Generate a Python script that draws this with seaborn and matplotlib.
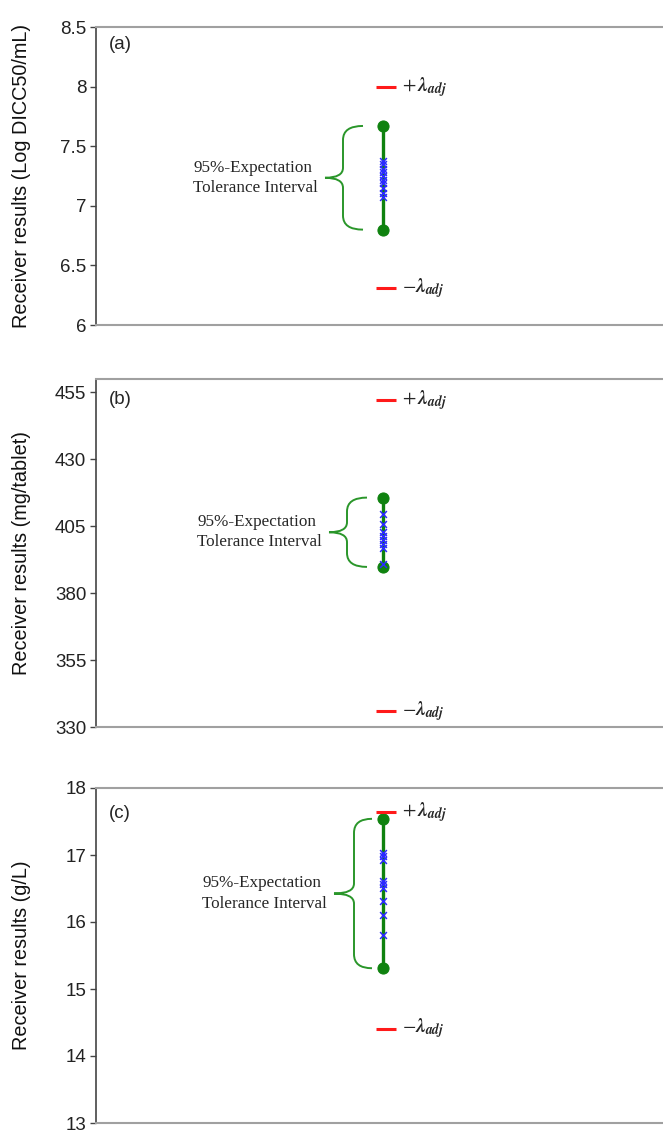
import pandas as pd
import matplotlib.pyplot as plt
from matplotlib.path import Path
from matplotlib.patches import PathPatch
from matplotlib.transforms import IdentityTransform
import seaborn as sns

# panel texts and axes
panel_names = ['(a)', '(b)', '(c)']
y_labels = ['Receiver results (Log DICC50/mL)',
            'Receiver results (mg/tablet)',
            'Receiver results (g/L)']
y_ticks = [[6, 6.5, 7, 7.5, 8, 8.5],
           [330, 355, 380, 405, 430, 455],
           [13, 14, 15, 16, 17, 18]]
y_tick_labels = [['6', '6.5', '7', '7.5', '8', '8.5'],
                 ['330', '355', '380', '405', '430', '455'],
                 ['13', '14', '15', '16', '17', '18']]
y_limits = [(6, 8.5), (330, 460), (13, 18)]

# 95%-expectation tolerance interval (green), +/- lambda_adj (red)
ti_low = [6.80, 389.8, 15.31]
ti_high = [7.67, 415.7, 17.54]
lam_minus = [6.31, 336.0, 14.41]
lam_plus = [8.00, 452.3, 17.64]

# receiver results (blue crosses)
results_a = [7.38, 7.35, 7.31, 7.28, 7.25, 7.22, 7.19, 7.15, 7.11, 7.07]
results_b = [409.5, 406.0, 403.0, 401.5, 400.0, 398.5, 397.0, 391.0]
results_c = [17.03, 16.98, 16.93, 16.61, 16.56, 16.51, 16.31, 16.11, 15.80]
results = [results_a, results_b, results_c]

sns.set_style('white')
plt.rcParams['font.family'] = ['Liberation Sans', 'DejaVu Sans']
plt.rcParams['mathtext.fontset'] = 'stix'

fig = plt.figure(figsize=(6.63, 11.32), dpi=100)
H = 1132.0
W = 663.0
# (top px, bottom px) of each panel
panel_px = [(27, 325), (379, 727), (788, 1123)]
left_px = 96
# brace geometry in px relative to the line: ends, vertical, tip
brace_px = [(-20, -40, -58), (-16, -36, -54), (-11, -29, -49)]
label_y = [0.94, 0.94, 0.925]

green = '#0f820f'
red = '#ff1a1a'
blue = '#2b2bff'


def draw_brace(ax, x0, y_top, y_bot, offs, color):
    # build a curly brace in pixel coordinates
    xe, xv, xt = offs
    px0, pt = ax.transData.transform((x0, y_top))
    _, pb = ax.transData.transform((x0, y_bot))
    xr, xm, xtip = px0 + xe, px0 + xv, px0 + xt
    mid = (pt + pb) / 2
    r = min(14, (pt - pb) / 5)
    rm = min(10, (pt - pb) / 7)
    verts = [(xr, pt), (xm, pt), (xm, pt - r),
             (xm, mid + rm), (xm, mid), (xtip, mid),
             (xm, mid), (xm, mid - rm),
             (xm, pb + r), (xm, pb), (xr, pb)]
    codes = [Path.MOVETO, Path.CURVE3, Path.CURVE3,
             Path.LINETO, Path.CURVE3, Path.CURVE3,
             Path.CURVE3, Path.CURVE3,
             Path.LINETO, Path.CURVE3, Path.CURVE3]
    patch = PathPatch(Path(verts, codes), facecolor='none', edgecolor=color,
                      lw=1.4, transform=IdentityTransform(), clip_on=False)
    ax.add_artist(patch)
    return xtip, mid


for i in range(3):
    top, bot = panel_px[i]
    ax = fig.add_axes([left_px / W, (H - bot) / H, 1 - left_px / W, (bot - top) / H])
    ax.set_xlim(-1.025, 1)
    ax.set_ylim(*y_limits[i])

    # tolerance interval line with end points
    ti = pd.DataFrame({'x': [0, 0], 'y': [ti_low[i], ti_high[i]]})
    sns.lineplot(data=ti, x='x', y='y', estimator=None, sort=False, color=green,
                 lw=2.4, marker='o', markersize=8, markeredgecolor=green, ax=ax)

    # receiver results
    rr = pd.DataFrame({'x': [0] * len(results[i]), 'y': results[i]})
    sns.scatterplot(data=rr, x='x', y='y', marker='x', color=blue, s=24,
                    linewidth=1.1, ax=ax, zorder=3)

    # lambda_adj limits
    lam = pd.DataFrame({'x': [0.01, 0.01], 'y': [lam_minus[i], lam_plus[i]]})
    sns.scatterplot(data=lam, x='x', y='y', marker='_', color=red, s=210,
                    linewidth=2.2, ax=ax, zorder=4)
    ax.annotate(r'$+\,\mathbfit{\lambda}_{\mathbfit{adj}}$', xy=(0, lam_plus[i]), xytext=(14, 0),
                textcoords='offset points', ha='left', va='center', fontsize=14)
    ax.annotate(r'$-\mathbfit{\lambda}_{\mathbfit{adj}}$', xy=(0, lam_minus[i]), xytext=(14, 0),
                textcoords='offset points', ha='left', va='center', fontsize=14)

    # brace and caption
    xtip, mid = draw_brace(ax, 0, ti_high[i], ti_low[i], brace_px[i], '#2a962a')
    ax.text(xtip - 7, mid, '95%-Expectation\nTolerance Interval',
            transform=IdentityTransform(), ha='right', va='center', multialignment='left',
            fontsize=12.3, family='Liberation Serif', linespacing=1.35)

    ax.text(0.022, label_y[i], panel_names[i], transform=ax.transAxes,
            fontsize=13.5, ha='left', va='center')

    ax.set_yticks(y_ticks[i])
    ax.set_yticklabels(y_tick_labels[i], fontsize=13.5, color='#222222')
    ax.set_xticks([])
    ax.set_xlabel('')
    ax.set_ylabel(y_labels[i], fontsize=14.3, color='#111111')
    ax.yaxis.set_label_coords(-0.114, 0.5)
    ax.tick_params(axis='y', left=True, length=4, width=1, color='#444444', pad=3)
    ax.spines['right'].set_visible(False)
    ax.spines['left'].set_color('#444444')
    ax.spines['left'].set_linewidth(1.2)
    for s in ['top', 'bottom']:
        ax.spines[s].set_color('#a0a0a0')
        ax.spines[s].set_linewidth(1.5)
    ax.grid(False)

fig.savefig('out.png', dpi=100)
